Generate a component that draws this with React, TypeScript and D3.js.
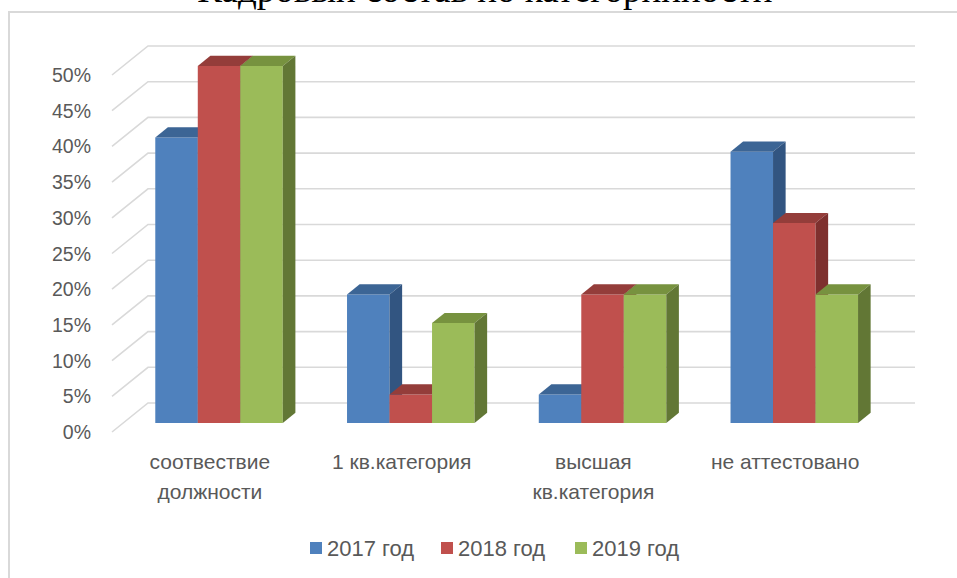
import React from "react";
import * as d3 from "d3";

const title = "Кадровый состав по категорийности";
const categories = ["соотвествие должности", "1 кв.категория", "высшая кв.категория", "не аттестовано"];
const categoryLines = [["соотвествие", "должности"], ["1 кв.категория"], ["высшая", "кв.категория"], ["не аттестовано"]];
const seriesNames = ["2017 год", "2018 год", "2019 год"];
const values2017 = [40, 18, 4, 38];
const values2018 = [50, 4, 18, 28];
const values2019 = [50, 14, 18, 18];
const yTicks = [0, 5, 10, 15, 20, 25, 30, 35, 40, 45, 50];

const frontColors = ["#4F81BD", "#C0504D", "#9BBB59"];
const topColors = ["#3C6595", "#943D3A", "#77923F"];
const sideColors = ["#325581", "#7E302E", "#627735"];

export default function App() {
  const W = 957, H = 578;
  const depthX = 36, depthY = 29;
  const zFront = 0.31, zBack = 0.66;
  const x = d3.scaleBand<string>().domain(categories).range([112, 879]).paddingInner(0.335).paddingOuter(0.1675);
  const xs = d3.scaleBand<string>().domain(seriesNames).range([0, x.bandwidth()]);
  const y = d3.scaleLinear().domain([0, 50]).range([432, 75]);
  const allValues = [values2017, values2018, values2019];
  const proj = (px: number, py: number, z: number): [number, number] => [px + z * depthX, py - z * depthY];
  const poly = (pts: [number, number][]) => pts.map((p) => p.join(",")).join(" ");
  const font = "'Liberation Sans', Arial, sans-serif";

  const bars: React.ReactNode[] = [];
  categories.forEach((c, ci) => {
    seriesNames.forEach((s, si) => {
      const v = allValues[si][ci];
      const x0 = (x(c) as number) + (xs(s) as number);
      const x1 = x0 + xs.bandwidth();
      const yt = y(v), yb = y(0);
      const f0 = proj(x0, yt, zFront), f1 = proj(x1, yt, zFront), f2 = proj(x1, yb, zFront), f3 = proj(x0, yb, zFront);
      const b0 = proj(x0, yt, zBack), b1 = proj(x1, yt, zBack), b2 = proj(x1, yb, zBack);
      bars.push(
        <g key={c + s}>
          <polygon points={poly([f0, f1, f2, f3])} fill={frontColors[si]} />
          <polygon points={poly([f0, f1, b1, b0])} fill={topColors[si]} />
          <polygon points={poly([f1, b1, b2, f2])} fill={sideColors[si]} />
        </g>
      );
    });
  });

  return (
    <svg width={W} height={H} style={{ position: "absolute", left: 0, top: 0, background: "#fff" }}>
      <rect x={0} y={0} width={W} height={H} fill="#fff" />
      <text x={485} y={2} textAnchor="middle" fontFamily="'Liberation Serif', 'Times New Roman', serif" fontSize={37} fill="#000">{title}</text>
      <rect x={9} y={12} width={1100} height={800} fill="none" stroke="#d9d9d9" strokeWidth={2} />
      {yTicks.map((t) => {
        const front = [112, y(t)] as [number, number];
        const back = proj(112, y(t), 1);
        return (
          <g key={t}>
            <polyline points={poly([front, back, [915, back[1]]])} fill="none" stroke="#d9d9d9" strokeWidth={1.6} />
            <text x={91} y={y(t) + 7} textAnchor="end" fontFamily={font} fontSize={19.5} fill="#595959">{t + "%"}</text>
          </g>
        );
      })}
      {bars}
      {categories.map((c, ci) => {
        const cx = (x(c) as number) + x.bandwidth() / 2 + 2;
        return (
          <text key={c} x={cx} y={469} textAnchor="middle" fontFamily={font} fontSize={21} fill="#595959">
            {categoryLines[ci].map((line, li) => (
              <tspan key={li} x={cx} dy={li === 0 ? 0 : 30}>{line}</tspan>
            ))}
          </text>
        );
      })}
      {seriesNames.map((s, si) => {
        const lx = [310, 441, 575][si];
        return (
          <g key={s}>
            <rect x={lx} y={542} width={12} height={12} fill={frontColors[si]} />
            <text x={lx + 17} y={556} fontFamily={font} fontSize={22} fill="#595959">{s}</text>
          </g>
        );
      })}
    </svg>
  );
}
